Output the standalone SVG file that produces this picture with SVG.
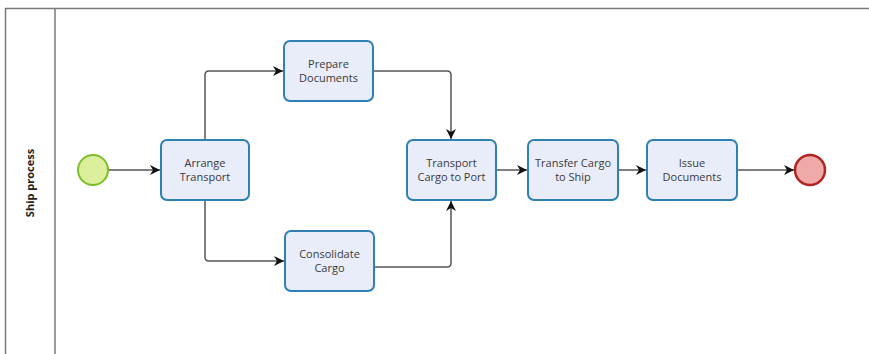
<svg xmlns="http://www.w3.org/2000/svg" width="869" height="354" viewBox="0 0 869 354">
  <defs>
    <marker id="arrow" viewBox="0 0 10 10" refX="10" refY="5" markerWidth="10" markerHeight="10" markerUnits="userSpaceOnUse" orient="auto">
      <path d="M0,0 L10,5 L0,10 L3,5 Z" fill="#111"/>
    </marker>
    <style>
      .pool { fill: none; stroke: #7a7a7a; stroke-width: 1.5; }
      .task rect { fill: #e9edf9; stroke: #2f80b5; stroke-width: 2; }
      .label { font-family: "Open Sans", "Liberation Sans", sans-serif; font-size: 11px; fill: #3a3a3a; text-anchor: middle; }
      .flow { fill: none; stroke: #555; stroke-width: 1.5; marker-end: url(#arrow); }
    </style>
  </defs>

  <rect width="869" height="354" fill="#ffffff"/>

  <!-- Pool with its lane header -->
  <g id="pool">
    <path class="pool" d="M869,8.5 H5.5 V354"/>
    <path class="pool" d="M55,8.5 V354"/>
    <text transform="translate(34,183) rotate(-90)" font-family="'Open Sans', 'Liberation Sans', sans-serif" font-size="11" font-weight="bold" fill="#222" text-anchor="middle">Ship process</text>
  </g>

  <!-- Sequence flows -->
  <g id="connectors">
    <path class="flow" d="M108,170 H160"/>
    <path class="flow" d="M205,140 V75 Q205,71 209,71 H283"/>
    <path class="flow" d="M205,200 V257 Q205,261 209,261 H284"/>
    <path class="flow" d="M373,71 H447 Q451,71 451,75 V139"/>
    <path class="flow" d="M374,267 H447 Q451,267 451,263 V201"/>
    <path class="flow" d="M496,170 H527"/>
    <path class="flow" d="M618,170 H646"/>
    <path class="flow" d="M737,170 H794"/>
  </g>

  <!-- Start event -->
  <g id="start">
    <circle cx="93" cy="170" r="15" fill="#dcef9c" stroke="#7dbd2a" stroke-width="2"/>
  </g>

  <g id="arrange-transport" class="task">
    <rect x="161" y="140" width="88" height="60" rx="6"/>
    <text class="label" x="205" y="167">Arrange</text>
    <text class="label" x="205" y="181">Transport</text>
  </g>

  <g id="prepare-documents" class="task">
    <rect x="284" y="41" width="89" height="60" rx="6"/>
    <text class="label" x="328.5" y="68">Prepare</text>
    <text class="label" x="328.5" y="82">Documents</text>
  </g>

  <g id="consolidate-cargo" class="task">
    <rect x="285" y="231" width="89" height="60" rx="6"/>
    <text class="label" x="329.5" y="258">Consolidate</text>
    <text class="label" x="329.5" y="272">Cargo</text>
  </g>

  <g id="transport-cargo-to-port" class="task">
    <rect x="407" y="140" width="89" height="60" rx="6"/>
    <text class="label" x="451.5" y="167">Transport</text>
    <text class="label" x="451.5" y="181">Cargo to Port</text>
  </g>

  <g id="transfer-cargo-to-ship" class="task">
    <rect x="528" y="140" width="90" height="60" rx="6"/>
    <text class="label" x="573" y="167">Transfer Cargo</text>
    <text class="label" x="573" y="181">to Ship</text>
  </g>

  <g id="issue-documents" class="task">
    <rect x="647" y="140" width="90" height="60" rx="6"/>
    <text class="label" x="692" y="167">Issue</text>
    <text class="label" x="692" y="181">Documents</text>
  </g>

  <!-- End event -->
  <g id="end">
    <circle cx="810" cy="170" r="15" fill="#f0a9a9" stroke="#b0251f" stroke-width="2.5"/>
  </g>
</svg>
